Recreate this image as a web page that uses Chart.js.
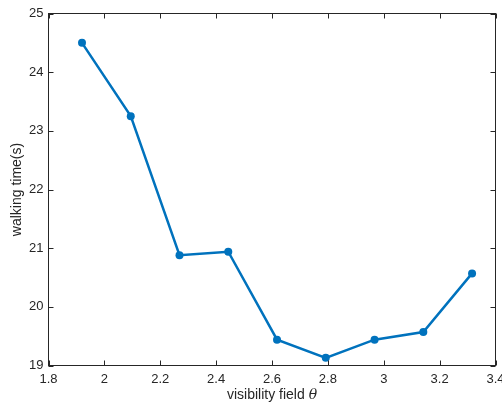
<!DOCTYPE html>
<html>
<head>
<meta charset="utf-8">
<script src="https://cdn.jsdelivr.net/npm/chart.js@4/dist/chart.umd.min.js"></script>
<style>
  html, body { margin: 0; padding: 0; background: #ffffff; }
  #wrap { width: 502px; height: 410px; }
</style>
</head>
<body>
<div id="wrap"><canvas id="c" width="502" height="410"></canvas></div>
<script>
// Visibility field angle (radians) and the measured walking time
const visibilityField = [1.9199, 2.0944, 2.2689, 2.4435, 2.6180, 2.7925, 2.9671, 3.1416, 3.3161];
const walkingTime = [24.5, 23.25, 20.88, 20.94, 19.44, 19.13, 19.44, 19.57, 20.57];

// Axis ticks
const xTicks = [1.8, 2.0, 2.2, 2.4, 2.6, 2.8, 3.0, 3.2, 3.4];
const yTicks = [19, 20, 21, 22, 23, 24, 25];

const xLabel = 'visibility field ';
const xLabelSymbol = 'θ';
const yLabel = 'walking time(s)';

const FONT = '"Liberation Sans", Arial, Helvetica, sans-serif';
const AXIS_COLOR = '#262626';
const LINE_COLOR = '#0072BD';

// Box around the axes with inward tick marks on all four sides, plus axis titles
const boxAxes = {
  id: 'boxAxes',
  afterDraw(chart) {
    const { ctx, chartArea: a, scales } = chart;
    const tl = 5;
    ctx.save();
    ctx.strokeStyle = AXIS_COLOR;
    ctx.lineWidth = 1;
    ctx.strokeRect(a.left, a.top, a.right - a.left, a.bottom - a.top);
    ctx.beginPath();
    scales.x.ticks.forEach(t => {
      const px = Math.round(scales.x.getPixelForValue(t.value)) + 0.5;
      ctx.moveTo(px, a.bottom); ctx.lineTo(px, a.bottom - tl);
      ctx.moveTo(px, a.top); ctx.lineTo(px, a.top + tl);
    });
    scales.y.ticks.forEach(t => {
      const py = Math.round(scales.y.getPixelForValue(t.value)) + 0.5;
      ctx.moveTo(a.left, py); ctx.lineTo(a.left + tl, py);
      ctx.moveTo(a.right, py); ctx.lineTo(a.right - tl, py);
    });
    ctx.stroke();

    // x-axis title with an italic symbol
    ctx.fillStyle = AXIS_COLOR;
    ctx.textBaseline = 'alphabetic';
    ctx.textAlign = 'left';
    const normalFont = '14px ' + FONT;
    const italicFont = 'italic 14px "DejaVu Serif", "Liberation Serif", serif';
    ctx.font = normalFont;
    const w1 = ctx.measureText(xLabel).width;
    ctx.font = italicFont;
    const w2 = ctx.measureText(xLabelSymbol).width;
    const cx = (a.left + a.right) / 2;
    let x0 = cx - (w1 + w2) / 2;
    ctx.font = normalFont;
    ctx.fillText(xLabel, x0, 398.5);
    ctx.font = italicFont;
    ctx.fillText(xLabelSymbol, x0 + w1, 398.5);

    // y-axis title
    ctx.font = normalFont;
    ctx.textAlign = 'center';
    ctx.translate(20.5, (a.top + a.bottom) / 2);
    ctx.rotate(-Math.PI / 2);
    ctx.fillText(yLabel, 0, 0);
    ctx.restore();
  }
};

const fmt = v => String(Math.round(v * 10) / 10);

new Chart(document.getElementById('c'), {
  type: 'scatter',
  data: {
    datasets: [{
      data: visibilityField.map((x, i) => ({ x, y: walkingTime[i] })),
      showLine: true,
      borderColor: LINE_COLOR,
      backgroundColor: LINE_COLOR,
      borderWidth: 2.5,
      pointRadius: 4,
      pointHoverRadius: 4,
      pointBorderWidth: 0,
      tension: 0
    }]
  },
  options: {
    responsive: false,
    animation: false,
    events: [],
    layout: { padding: { top: 13.5, right: 6.5, left: 0, bottom: 0 } },
    plugins: { legend: { display: false }, tooltip: { enabled: false } },
    scales: {
      x: {
        type: 'linear',
        min: 1.8, max: 3.4,
        grid: { display: false, drawTicks: false },
        border: { display: false },
        afterBuildTicks: s => { s.ticks = xTicks.map(v => ({ value: v })); },
        afterFit: s => { s.height = 44.5; s.paddingLeft = 0; s.paddingRight = 0; },
        ticks: {
          autoSkip: false, maxRotation: 0, padding: 6,
          color: AXIS_COLOR,
          font: { family: FONT, size: 13 },
          callback: fmt
        }
      },
      y: {
        type: 'linear',
        min: 19, max: 25,
        grid: { display: false, drawTicks: false },
        border: { display: false },
        afterBuildTicks: s => { s.ticks = yTicks.map(v => ({ value: v })); },
        afterFit: s => { s.width = 48.5; s.paddingTop = 0; s.paddingBottom = 0; },
        ticks: {
          autoSkip: false, padding: 5,
          color: AXIS_COLOR,
          font: { family: FONT, size: 13 },
          callback: fmt
        }
      }
    }
  },
  plugins: [boxAxes]
});
</script>
</body>
</html>
